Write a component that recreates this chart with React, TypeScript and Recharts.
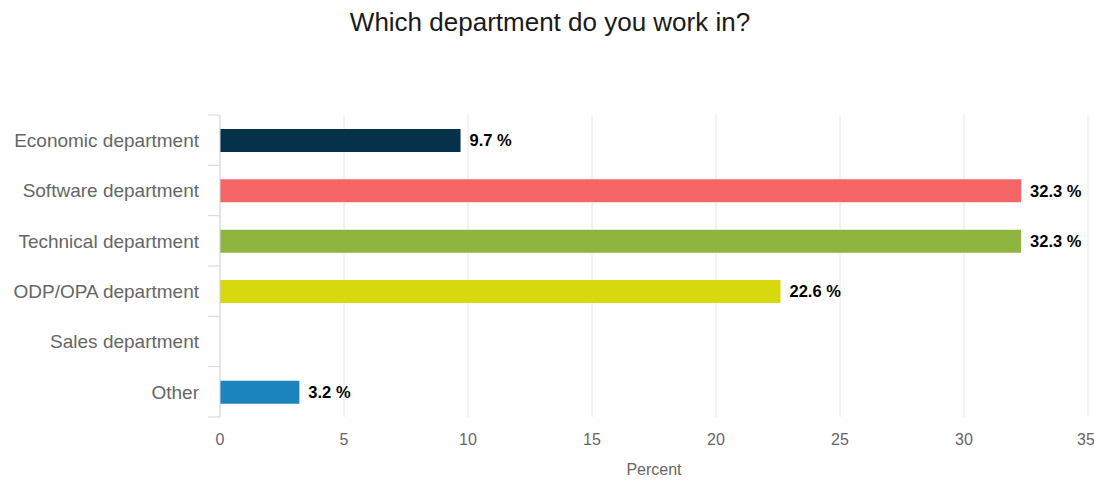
import React from 'react';
import {
  BarChart,
  Bar,
  XAxis,
  YAxis,
  CartesianGrid,
  LabelList,
  Cell
} from 'recharts';

// categories and values
const departments = [
  'Economic department',
  'Software department',
  'Technical department',
  'ODP/OPA department',
  'Sales department',
  'Other'
];
const percents = [9.7, 32.3, 32.3, 22.6, 0, 3.2];
const barColors = ['#05314a', '#f66565', '#90b53e', '#d8d80f', '#2b908f', '#1b84bc'];
const xTicks = [0, 5, 10, 15, 20, 25, 30, 35];

const FONT = '"Liberation Sans", Arial, Helvetica, sans-serif';
const AXIS_COLOR = '#ccd6eb';

const chartData = departments.map((name, i) => ({ name, value: percents[i] }));

// label plus tick marks on the band edges (highcharts style "between" ticks)
const CategoryTick = (props: any) => {
  const { x, y, payload, index, visibleTicksCount } = props;
  const half = payload.offset || 0;
  const isLast = index === visibleTicksCount - 1;
  return (
    <g>
      <line x1={x - 12} x2={x} y1={y - half} y2={y - half} stroke={AXIS_COLOR} />
      {isLast && (
        <line x1={x - 12} x2={x} y1={y + half} y2={y + half} stroke={AXIS_COLOR} />
      )}
      <text
        x={x - 21}
        y={y}
        dy="0.355em"
        textAnchor="end"
        fill="#666"
        fontSize={19}
        fontFamily={FONT}
      >
        {payload.value}
      </text>
    </g>
  );
};

export default function App() {
  return (
    <div
      style={{
        position: 'absolute',
        left: 0,
        top: 0,
        width: 1094,
        height: 480,
        background: '#fff',
        fontFamily: FONT
      }}
    >
      <div
        style={{
          position: 'absolute',
          top: 6,
          left: 0,
          width: 1100,
          textAlign: 'center',
          fontSize: 26,
          color: '#1a1a1a',
          lineHeight: '32px'
        }}
      >
        Which department do you work in?
      </div>
      <BarChart
        width={1094}
        height={480}
        data={chartData}
        layout="vertical"
        margin={{ top: 115, right: 6, left: 0, bottom: 0 }}
        style={{ fontFamily: FONT }}
      >
        <CartesianGrid horizontal={false} stroke="#e6e6e6" />
        <XAxis
          type="number"
          domain={[0, 35]}
          ticks={xTicks}
          axisLine={false}
          tickLine={false}
          tickSize={0}
          tickMargin={17}
          height={63}
          tick={{ fill: '#666', fontSize: 16 }}
          label={{
            value: 'Percent',
            position: 'insideBottom',
            offset: 5,
            fill: '#666',
            fontSize: 16
          }}
        />
        <YAxis
          type="category"
          dataKey="name"
          width={220}
          axisLine={{ stroke: AXIS_COLOR }}
          tickLine={false}
          tickSize={0}
          tickMargin={0}
          tick={<CategoryTick />}
        />
        <Bar dataKey="value" barSize={23} isAnimationActive={false}>
          {chartData.map((d, i) => (
            <Cell key={d.name} fill={barColors[i]} />
          ))}
          <LabelList
            dataKey="value"
            position="right"
            offset={9}
            formatter={(v: any) => (v ? `${v} %` : '')}
            style={{ fill: '#000', fontSize: 16.5, fontWeight: 'bold' }}
          />
        </Bar>
      </BarChart>
    </div>
  );
}
